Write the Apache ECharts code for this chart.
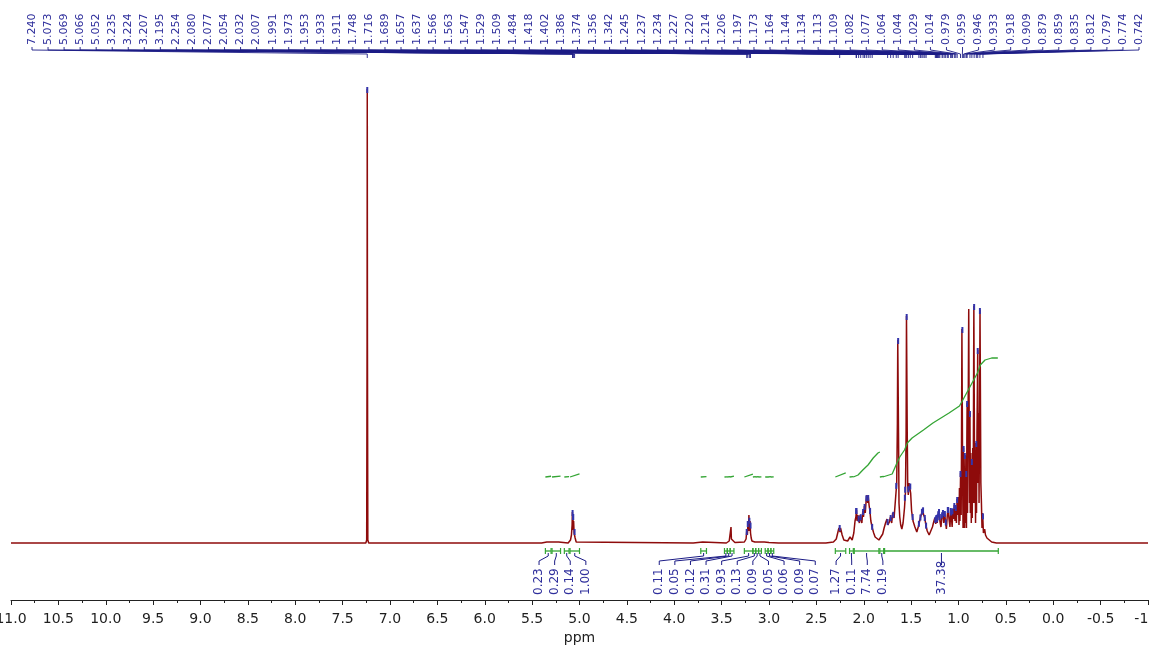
<!DOCTYPE html>
<html><head><meta charset="utf-8">
<script src="https://cdn.jsdelivr.net/npm/echarts@6/dist/echarts.min.js"></script>
<style>html,body{margin:0;padding:0;background:#fff}#c{width:1149px;height:646px}</style>
</head><body><div id="c"></div><script>
// ---- data ----
const axisMin = -1, axisMax = 11, axisStep = 0.5;

const peakLabels = ['7.240','5.073','5.069','5.066','5.052','3.235','3.224','3.207','3.195','2.254','2.080','2.077','2.054','2.032','2.007','1.991','1.973','1.953','1.933','1.911','1.748','1.716','1.689','1.657','1.637','1.566','1.563','1.547','1.529','1.509','1.484','1.418','1.402','1.386','1.374','1.356','1.342','1.245','1.237','1.234','1.227','1.220','1.214','1.206','1.197','1.173','1.164','1.144','1.134','1.113','1.109','1.082','1.077','1.064','1.044','1.029','1.014','0.979','0.959','0.946','0.933','0.918','0.909','0.879','0.859','0.835','0.812','0.797','0.774','0.742'];

// spectrum trace: [ppm, intensity]
const spectrum = [
[11.0,0],[9.8,0],[9.79,0.8],[9.78,0],[7.52,0],[7.505,1.5],[7.49,0],[7.255,0],[7.246,3],[7.242,200],[7.240,454],[7.238,200],[7.234,3],[7.225,0],
[6.99,0],[6.982,2],[6.974,0],
[5.40,0],[5.345,1],[5.333,2.5],[5.32,1],[5.25,1],[5.235,3],[5.22,1],[5.12,0],[5.095,3],[5.085,8],[5.078,18],[5.075,31],[5.072,14],[5.069,27],[5.066,13],[5.062,22],[5.057,10],[5.052,12],[5.046,5],[5.035,1],[5.02,0],
[3.80,0],[3.70,1],[3.69,2],[3.68,1],[3.45,0],[3.42,2],[3.405,4],[3.401,16],[3.397,4],[3.39,2],[3.36,0.5],[3.26,1],[3.242,4],[3.235,12],[3.228,8],[3.222,20],[3.217,12],[3.212,28],[3.207,12],[3.200,22],[3.195,10],[3.188,5],[3.18,2],[3.15,1],[3.05,1],[3.0,0.5],[2.9,0],
[2.40,0],[2.32,1],[2.29,4],[2.275,10],[2.262,15],[2.255,16],[2.25,11],[2.245,15],[2.238,13],[2.228,8],[2.21,3],[2.19,1.5],[2.17,2],[2.16,2],[2.145,6],[2.135,7],[2.122,3],[2.105,10],[2.092,22],[2.083,26],[2.077,33],[2.07,22],[2.062,28],[2.054,23],[2.046,20],[2.038,28],[2.03,24],[2.02,20],[2.01,32],[2.003,26],[1.993,37],[1.984,30],[1.975,42],[1.966,48],[1.958,40],[1.952,46],[1.944,38],[1.935,32],[1.925,22],[1.91,15],[1.895,10],[1.88,6],[1.86,4],[1.84,3],[1.82,5],[1.80,9],[1.785,15],[1.77,20],[1.755,24],[1.745,18],[1.73,21],[1.718,26],[1.705,20],[1.695,30],[1.68,25],[1.668,40],[1.652,60],[1.645,120],[1.641,203],[1.637,203],[1.633,110],[1.628,40],[1.62,26],[1.61,18],[1.598,14],[1.585,20],[1.57,35],[1.56,50],[1.553,110],[1.549,227],[1.545,227],[1.541,110],[1.536,58],[1.53,48],[1.522,60],[1.513,58],[1.505,50],[1.495,32],[1.48,22],[1.46,16],[1.44,11],[1.425,16],[1.41,22],[1.40,26],[1.388,30],[1.378,34],[1.368,28],[1.355,25],[1.345,18],[1.33,12],[1.31,8],[1.29,10],[1.275,16],[1.262,21],[1.25,25],[1.24,19],[1.232,26],[1.225,20],[1.215,28],[1.205,32],[1.196,22],[1.185,16],[1.175,26],[1.165,31],[1.155,20],[1.146,30],[1.138,22],[1.128,14],[1.118,28],[1.11,34],[1.10,24],[1.09,16],[1.082,33],[1.075,26],[1.067,16],[1.06,34],[1.052,24],[1.045,38],[1.037,22],[1.03,36],[1.022,20],[1.015,44],[1.008,28],[1.00,46],[0.995,18],[0.99,55],[0.985,22],[0.978,70],[0.972,28],[0.968,100],[0.964,214],[0.960,214],[0.956,60],[0.952,15],[0.948,95],[0.944,20],[0.940,75],[0.936,15],[0.930,88],[0.926,20],[0.920,70],[0.916,15],[0.912,100],[0.909,140],[0.905,30],[0.900,120],[0.896,160],[0.892,234],[0.888,234],[0.884,40],[0.879,130],[0.875,30],[0.870,90],[0.865,20],[0.860,82],[0.855,25],[0.850,95],[0.845,40],[0.841,150],[0.838,237],[0.833,237],[0.829,40],[0.825,90],[0.820,20],[0.815,100],[0.810,30],[0.805,110],[0.800,160],[0.797,193],[0.793,60],[0.788,130],[0.783,40],[0.778,120],[0.773,233],[0.768,233],[0.764,60],[0.758,40],[0.752,15],[0.747,30],[0.742,22],[0.737,10],[0.73,8],[0.724,14],[0.715,8],[0.70,5],[0.68,3],[0.65,1],[0.60,0],[-1.0,0]
];

// integrals
const intValues = ['0.23','0.29','0.14','1.00','0.11','0.05','0.12','0.31','0.93','0.13','0.09','0.05','0.06','0.09','0.07','1.27','0.11','7.74','0.19','37.38'];
const intFrom  = [5.36,5.29,5.16,5.10, 3.72,3.47,3.44,3.41,3.26,3.17,3.14,3.11,3.04,3.01,2.98, 2.30,2.15,2.10,1.83, 1.78];
const intTo    = [5.30,5.20,5.11,5.00, 3.66,3.44,3.41,3.37,3.17,3.14,3.11,3.08,3.01,2.98,2.95, 2.19,2.11,1.84,1.79, 0.58];
const intGroup = [0,0,0,0, 1,1,1,1,1,1,1,1,1,1,1, 2,2,2,2, 3];

// traced integral curves
const integralBase = 66;
const curve774 = [[2.11,66],[2.06,68],[2.01,73],[1.955,78],[1.90,85],[1.85,90],[1.83,91]];
const curve3738 = [[1.80,66],[1.70,69],[1.65,80],[1.62,86],[1.57,93],[1.54,100],[1.49,105],[1.37,113],[1.27,120],[1.10,130],[0.99,137],[0.96,142],[0.88,156],[0.80,170],[0.77,178],[0.72,183],[0.65,185],[0.585,185]];

// ---- layout / style ----
const FONT = '"DejaVu Sans", Verdana, sans-serif';
const NAVY = '#1c1c86';
const LABEL_TXT = '#2f2f9c';
const GREEN = '#35a535';
const RED = '#8e0b0b';
const LABEL_X0 = 32, LABEL_X1 = 1139;
const LABEL_STEP = (LABEL_X1 - LABEL_X0) / (peakLabels.length - 1);
const INT_STEP = 15.6;
const RISE_PER_UNIT = 3.18;

function traceAt(p){
  for (let k=0;k<spectrum.length-1;k++){
    const a=spectrum[k], b=spectrum[k+1];
    if (p<=a[0] && p>=b[0]){ const t=(a[0]-p)/(a[0]-b[0]||1); return a[1]+(b[1]-a[1])*t; }
  }
  return 0;
}
function traceMax(p,w){
  let m=Math.max(traceAt(p-w),traceAt(p+w),traceAt(p));
  spectrum.forEach(s=>{ if (s[0]>=p-w && s[0]<=p+w) m=Math.max(m,s[1]); });
  return m;
}
const peakTopH = peakLabels.map(t=>traceMax(parseFloat(t),0.0035));

// integral curve data (small ones straight from value)
const intCurveData = [];
intValues.forEach((v,i)=>{
  if (v==='7.74' || v==='37.38') return;
  intCurveData.push([intFrom[i], integralBase], [intTo[i], integralBase + parseFloat(v)*RISE_PER_UNIT], '-');
});
curve774.forEach(p=>intCurveData.push(p)); intCurveData.push('-');
curve3738.forEach(p=>intCurveData.push(p));

// group spans
const groups = {};
intGroup.forEach((g,i)=>{
  if(!groups[g]) groups[g]={from:-Infinity,to:Infinity,members:[]};
  groups[g].from=Math.max(groups[g].from,intFrom[i]);
  groups[g].to=Math.min(groups[g].to,intTo[i]);
  groups[g].members.push(i);
});

const chart = echarts.init(document.getElementById('c'), null, {renderer:'canvas'});
chart.setOption({
  animation:false,
  backgroundColor:'#ffffff',
  grid:{left:11,right:1,top:33,bottom:46,containLabel:false,outerBoundsMode:'none'},
  xAxis:{
    type:'value', inverse:true, min:axisMin, max:axisMax, interval:axisStep,
    name:'ppm', nameLocation:'middle', nameGap:25,
    nameTextStyle:{fontSize:14,color:'#1e1e1e',fontFamily:FONT},
    axisLine:{show:true,onZero:false,lineStyle:{color:'#222',width:1}},
    axisTick:{show:true,inside:false,length:5,lineStyle:{color:'#222'}},
    minorTick:{show:true,splitNumber:2,length:3,lineStyle:{color:'#222'}},
    splitLine:{show:false},
    axisLabel:{show:true,margin:12,fontSize:14,color:'#1e1e1e',fontFamily:FONT,
      showMinLabel:true,showMaxLabel:true,hideOverlap:false,
      formatter:v=>v.toFixed(1)}
  },
  yAxis:{type:'value',show:false,min:-57,max:510,splitLine:{show:false}},
  series:[
    {type:'line',data:spectrum,showSymbol:false,symbol:'none',
     lineStyle:{color:RED,width:1.5},z:3,silent:true},
    {type:'line',data:intCurveData,showSymbol:false,symbol:'none',connectNulls:false,
     lineStyle:{color:GREEN,width:1.3},z:4,silent:true},
    {type:'custom',coordinateSystem:'cartesian2d',clip:false,silent:true,z:5,
     data:peakLabels.map((t,i)=>[parseFloat(t),0,i]),
     encode:{x:0,y:1},
     renderItem:(params,api)=>{
       const i=api.value(2), ppm=api.value(0);
       const px=api.coord([ppm,0])[0];
       const py=api.coord([ppm,peakTopH[i]])[1];
       const lx=LABEL_X0+i*LABEL_STEP;
       return {type:'group',children:[
         {type:'text',x:lx,y:45,rotation:Math.PI/2,
          style:{text:peakLabels[i],fill:LABEL_TXT,font:'11px '+FONT,align:'left',verticalAlign:'middle'}},
         {type:'polyline',shape:{points:[[lx,47],[lx,50],[px,54],[px,58]]},
          style:{stroke:NAVY,lineWidth:0.9,fill:null}},
         {type:'rect',shape:{x:px-1,y:py-2,width:2,height:6},style:{fill:'#3434aa'}}
       ]};
     }},
    {type:'custom',coordinateSystem:'cartesian2d',clip:false,silent:true,z:5,
     data:intValues.map((v,i)=>[intFrom[i],intTo[i],i]),
     encode:{x:[0,1]},
     renderItem:(params,api)=>{
       const i=api.value(2);
       const x1=api.coord([intFrom[i],0])[0], x2=api.coord([intTo[i],0])[0];
       const g=groups[intGroup[i]];
       const gx1=api.coord([g.from,0])[0], gx2=api.coord([g.to,0])[0];
       const k=g.members.indexOf(i), n=g.members.length;
       const lx=(gx1+gx2)/2+(k-(n-1)/2)*INT_STEP;
       const cx=(x1+x2)/2, by=551;
       return {type:'group',children:[
         {type:'line',shape:{x1:x1,y1:by,x2:x2,y2:by},style:{stroke:GREEN,lineWidth:1.3}},
         {type:'line',shape:{x1:x1,y1:by-3,x2:x1,y2:by+3},style:{stroke:GREEN,lineWidth:1.2}},
         {type:'line',shape:{x1:x2,y1:by-3,x2:x2,y2:by+3},style:{stroke:GREEN,lineWidth:1.2}},
         {type:'polyline',shape:{points:[[cx,by+2],[cx,556],[lx,561],[lx,565]]},
          style:{stroke:NAVY,lineWidth:1,fill:null}},
         {type:'text',x:lx,y:595,rotation:Math.PI/2,
          style:{text:intValues[i],fill:LABEL_TXT,font:'12px '+FONT,align:'left',verticalAlign:'middle'}}
       ]};
     }}
  ]
});
</script></body></html>
